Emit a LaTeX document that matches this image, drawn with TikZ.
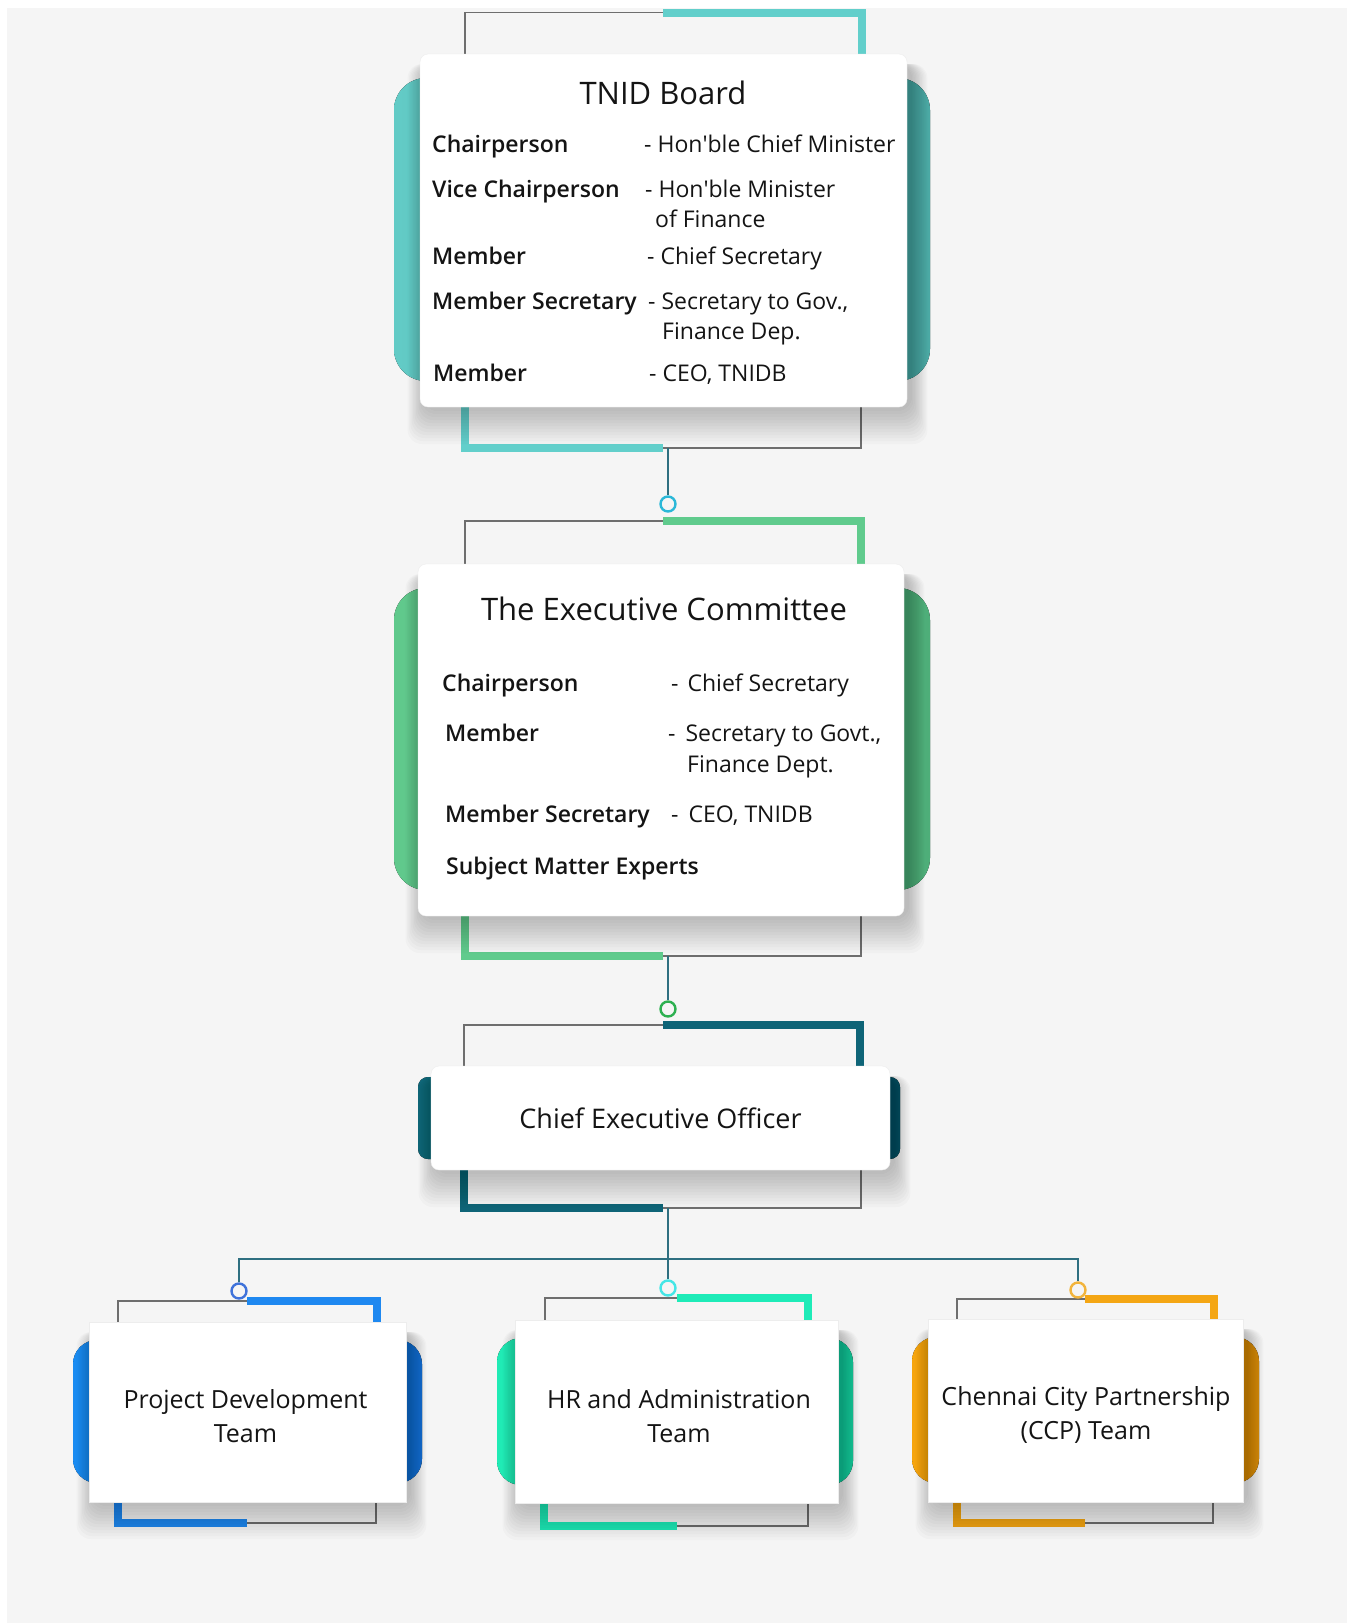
\documentclass[tikz,border=0pt]{standalone}
\usepackage{fontspec}
\IfFontExistsTF{Open Sans SemiBold}
  {\setmainfont{Open Sans}[BoldFont={Open Sans SemiBold}]}
  {\IfFontExistsTF{Open Sans Semibold}
    {\setmainfont{Open Sans}[BoldFont={Open Sans Semibold}]}
    {\setmainfont{Open Sans}}}

\definecolor{bggrey}{HTML}{F5F5F5}
\definecolor{linegrey}{HTML}{6E6E6E}
\definecolor{linkteal}{HTML}{2E6F80}
\definecolor{ink}{HTML}{141414}
\definecolor{boardL}{HTML}{62CBC6}
\definecolor{boardR}{HTML}{4BA9A4}
\definecolor{boardline}{HTML}{62CFCB}
\definecolor{execL}{HTML}{60C98C}
\definecolor{execR}{HTML}{4EAE79}
\definecolor{execline}{HTML}{60CB8D}
\definecolor{ceoL}{HTML}{0F6678}
\definecolor{ceoR}{HTML}{0B5565}
\definecolor{ceoline}{HTML}{0E6477}
\definecolor{pdL}{HTML}{1A8CF2}
\definecolor{pdR}{HTML}{1570D5}
\definecolor{pdline}{HTML}{1E88F0}
\definecolor{hrL}{HTML}{20EBB5}
\definecolor{hrR}{HTML}{17CC9C}
\definecolor{hrline}{HTML}{1EEBB8}
\definecolor{ccpL}{HTML}{F6A50E}
\definecolor{ccpR}{HTML}{DC8E0C}
\definecolor{ccpline}{HTML}{F4A614}
\definecolor{ringboard}{HTML}{2BB8D8}
\definecolor{ringexec}{HTML}{2DB050}
\definecolor{ringpd}{HTML}{3F72DA}
\definecolor{ringhr}{HTML}{45E6E6}
\definecolor{ringccp}{HTML}{F2B43C}

\def\boardplate{(394,78) rectangle (930,381)}
\def\execplate{(394,588) rectangle (930,890)}
\def\ceoplate{(418,1077) rectangle (900,1159)}
\def\pdplate{(73,1340) rectangle (422,1483)}
\def\hrplate{(497,1338) rectangle (853,1485)}
\def\ccpplate{(912,1337) rectangle (1259,1483)}

% soft shadow under a card: left, top, right, bottom
\newcommand\softshadow[4]{%
  \foreach \i in {0,...,11}
    \fill[black, opacity=0.018, rounded corners=14pt]
      (#1-\i*1.4+3, #2+10) rectangle (#3+\i*1.4+5, #4+4+\i*3);}

\begin{document}
\begin{tikzpicture}[x=1pt, y=-1pt,
    frame/.style={draw=linegrey, line width=1.6pt},
    band/.style={draw=#1, line width=8pt},
    link/.style={draw=linkteal, line width=1.2pt},
    ring/.style={circle, draw=#1, line width=2.4pt, fill=bggrey,
      inner sep=0pt, minimum size=15pt},
    card/.style={fill=white, draw=black!7, rounded corners=8pt,
      inner sep=0pt, text=ink},
    team/.style={card, rounded corners=0pt, align=center,
      font=\fontsize{25}{34}\selectfont},
    heading/.style={anchor=base, inner sep=0pt, text=ink,
      font=\fontsize{31}{37}\selectfont},
    role/.style={anchor=base west, inner sep=0pt, text=ink,
      font=\bfseries\fontsize{23}{28}\selectfont},
    duty/.style={anchor=base west, inner sep=0pt, text=ink,
      font=\fontsize{23}{28}\selectfont}]

    \useasboundingbox (0,0) rectangle (1349,1623);
    \fill[white] (0,0) rectangle (1349,1623);
    \fill[bggrey] (7,8) rectangle (1347,1623);

    % coloured plates behind the cards
    \fill[rounded corners=32pt, left color=boardL, right color=boardR] \boardplate;
    \fill[rounded corners=32pt, left color=execL, right color=execR] \execplate;
    \fill[rounded corners=10pt, left color=ceoL, right color=ceoR] \ceoplate;
    \fill[rounded corners=24pt, left color=pdL, right color=pdR] \pdplate;
    \fill[rounded corners=24pt, left color=hrL, right color=hrR] \hrplate;
    \fill[rounded corners=24pt, left color=ccpL, right color=ccpR] \ccpplate;

    % TNID Board
    \draw[frame] (663,12.5) -| (465,80);
    \draw[band=boardline] (663,12.5) -| (862,80);
    \draw[band=boardline] (465,390) |- (663,448);
    \draw[frame] (663,448) -| (861,390);
    \softshadow{420}{54}{907}{407}
    \node[card, minimum width=487pt, minimum height=353pt] (board) at (663.5,230.5) {};
    \node[heading] at (663,104) {TNID Board};
    \node[role] at (432,152) {Chairperson};
    \node[duty] at (644,152) {- Hon\textquotesingle ble Chief Minister};
    \node[role] at (432,197) {Vice Chairperson};
    \node[duty] at (645,197) {- Hon\textquotesingle ble Minister};
    \node[duty] at (655,227) {of Finance};
    \node[role] at (432,264) {Member};
    \node[duty] at (647,264) {- Chief Secretary};
    \node[role] at (432,309) {Member Secretary};
    \node[duty] at (648,309) {- Secretary to Gov.,};
    \node[duty] at (662,339) {Finance Dep.};
    \node[role] at (433,381) {Member};
    \node[duty] at (649,381) {- CEO, TNIDB};

    % The Executive Committee
    \draw[frame] (663,521) -| (465,590);
    \draw[band=execline] (663,521) -| (861,590);
    \draw[band=execline] (465,900) |- (663,956);
    \draw[frame] (663,956) -| (861,900);
    \softshadow{418}{564}{904}{916}
    \node[card, minimum width=486pt, minimum height=352pt] (exec) at (661,740) {};
    \node[heading] at (664,620) {The Executive Committee};
    \node[role] at (442,691) {Chairperson};
    \node[duty] at (671,691) {-\hspace{9pt}Chief Secretary};
    \node[role] at (445,741) {Member};
    \node[duty] at (668,741) {-\hspace{10pt}Secretary to Govt.,};
    \node[duty] at (687,772) {Finance Dept.};
    \node[role] at (445,822) {Member Secretary};
    \node[duty] at (671,822) {-\hspace{10pt}CEO, TNIDB};
    \node[role] at (446,874) {Subject Matter Experts};

    % Chief Executive Officer
    \draw[frame] (663,1025) -| (464,1080);
    \draw[band=ceoline] (663,1025) -| (860,1080);
    \draw[band=ceoline] (464,1160) |- (663,1208);
    \draw[frame] (663,1208) -| (861,1160);
    \softshadow{431}{1066}{890}{1170}
    \node[card, minimum width=459pt, minimum height=104pt,
      font=\fontsize{27}{32}\selectfont] (ceo) at (660.5,1118) {Chief Executive Officer};

    % the three teams
    \draw[frame] (247,1301) -| (118,1330);
    \draw[band=pdline] (247,1301) -| (377,1330);
    \draw[band=pdline] (118,1495) |- (247,1523);
    \draw[frame] (247,1523) -| (376,1495);
    \softshadow{89}{1322}{406}{1502}
    \node[team, minimum width=317pt, minimum height=180pt] (pd) at (247.5,1412) {};
    \node[team, fill=none, draw=none] at (245.5,1416) {Project Development\\Team};

    \draw[frame] (677,1298) -| (545,1330);
    \draw[band=hrline] (677,1298) -| (808,1330);
    \draw[band=hrline] (544,1495) |- (677,1526);
    \draw[frame] (677,1526) -| (808,1495);
    \softshadow{515}{1320}{838}{1503}
    \node[team, minimum width=323pt, minimum height=183pt] (hr) at (676.5,1411.5) {};
    \node[team, fill=none, draw=none] at (679,1416) {HR and Administration\\Team};

    \draw[frame] (1085,1299) -| (957,1330);
    \draw[band=ccpline] (1085,1299) -| (1214,1330);
    \draw[band=ccpline] (957,1495) |- (1085,1523);
    \draw[frame] (1085,1523) -| (1213,1495);
    \softshadow{928}{1319}{1243}{1502}
    \node[team, minimum width=315pt, minimum height=183pt] (ccp) at (1085.5,1410.5) {};
    \node[team, fill=none, draw=none] at (1086,1414.5) {Chennai City Partnership\\(CCP) Team};

    % connectors and rings
    \coordinate (boardfoot) at (668,448);
    \coordinate (execfoot) at (668,956);
    \coordinate (ceofoot) at (668,1208);
    \coordinate (bus) at (668,1259);
    \node[ring=ringboard] (r1) at (668,504) {};
    \node[ring=ringexec] (r2) at (668,1009) {};
    \node[ring=ringpd] (r3) at (239,1291) {};
    \node[ring=ringhr] (r4) at (668,1288) {};
    \node[ring=ringccp] (r5) at (1078,1290) {};
    \draw[link] (boardfoot) -- (r1);
    \draw[link] (execfoot) -- (r2);
    \draw[link] (ceofoot) -- (r4);
    \draw[link] (r3.north) -- (r3.north |- bus) -- (r5.north |- bus) -- (r5.north);

\end{tikzpicture}
\end{document}
